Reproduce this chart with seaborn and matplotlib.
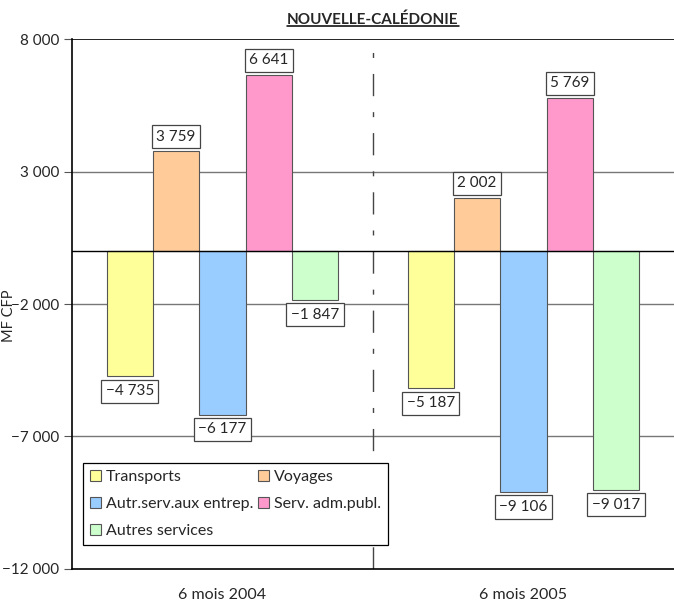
import numpy as np
import pandas as pd
import matplotlib
matplotlib.use('Agg')
import matplotlib.pyplot as plt
import seaborn as sns

periods = ['6 mois 2004', '6 mois 2005']
services = ['Transports', 'Voyages', 'Autr.serv.aux entrep.', 'Serv. adm.publ.', 'Autres services']
vals_2004 = [-4735, 3759, -6177, 6641, -1847]
vals_2005 = [-5187, 2002, -9106, 5769, -9017]
colors = ['#FFFF99', '#FFCC99', '#99CCFF', '#FF99CC', '#CCFFCC']
yticks = [8000, 3000, -2000, -7000, -12000]

df = pd.DataFrame({
    'periode': [p for p in periods for _ in services],
    'service': services * 2,
    'valeur': vals_2004 + vals_2005,
})

sns.set_style('white')
plt.rcParams['font.family'] = ['Lato', 'DejaVu Sans']

def fmt(v):
    s = f'{abs(v):,}'.replace(',', ' ')
    return ('\u2212' if v < 0 else '') + s

fig = plt.figure(figsize=(6.74, 6.03), dpi=100)
ax = fig.add_axes([0.1068, 0.0564, 0.8932, 0.8789])

sns.barplot(data=df, x='periode', y='valeur', hue='service', order=periods,
            hue_order=services, palette=colors, width=0.77, saturation=1,
            edgecolor='#555555', linewidth=0.8, ax=ax, zorder=3)

ax.set_ylim(-12000, 8000)
ax.set_xlim(-0.5, 1.5)
ax.set_yticks(yticks)
ax.set_yticklabels([fmt(t) for t in yticks], fontsize=11)
ax.tick_params(axis='y', length=6, width=0.8, color='#555555', pad=3, direction='out', left=True)
ax.tick_params(axis='x', length=0, labelsize=11.5, pad=14)
ax.set_xlabel('')
ax.set_ylabel('MF CFP', fontsize=10.5)
ax.yaxis.set_label_coords(-0.093, 0.477)

for t in [3000, -2000, -7000]:
    ax.axhline(t, color='#777777', lw=1, zorder=1)
ax.axhline(0, color='black', lw=1, zorder=4)
ax.axhline(8000, color='black', lw=1.2, zorder=4)
ax.axvline(0.5, color='#444444', lw=1, ls=(0, (16, 11.5, 3.6, 11.5)), zorder=1)

for s in ['top', 'right']:
    ax.spines[s].set_visible(False)
ax.spines['left'].set_color('black')
ax.spines['bottom'].set_color('black')
ax.spines['left'].set_linewidth(1.2)
ax.spines['bottom'].set_linewidth(1.2)

for cont in ax.containers:
    for bar in cont:
        h = bar.get_height()
        x = bar.get_x() + bar.get_width() / 2
        off = 5.5 if h > 0 else -5.5
        ax.annotate(fmt(int(round(h))), (x, h), xytext=(0, off), textcoords='offset points',
                    ha='center', va='bottom' if h > 0 else 'top', fontsize=11, zorder=5,
                    bbox=dict(boxstyle='square,pad=0.3', fc='white', ec='#444444', lw=0.9))

handles, labels = ax.get_legend_handles_labels()
idx = [0, 2, 4, 1, 3]
leg = ax.legend([handles[i] for i in idx], [labels[i] for i in idx], ncol=2,
                loc='lower left', bbox_to_anchor=(0.018, 0.045), fontsize=11.5,
                frameon=True, fancybox=False, edgecolor='black', framealpha=1,
                handlelength=0.7, handleheight=0.7, handletextpad=0.3,
                columnspacing=0.3, borderpad=0.45, labelspacing=0.8,
                borderaxespad=0)
leg.get_frame().set_linewidth(0.9)
leg.set_zorder(6)

ax.set_title('NOUVELLE-CALÉDONIE', fontsize=11, fontweight='bold', pad=11)
t = ax.title
fig.canvas.draw()
bb = t.get_window_extent()
inv = fig.transFigure.inverted()
(x0, y0), (x1, _) = inv.transform([[bb.x0, bb.y0], [bb.x1, bb.y0]])
fig.add_artist(plt.Line2D([x0, x1], [y0 + 0.001, y0 + 0.001], color='black', lw=1.1))

fig.savefig('out.png', dpi=100)
